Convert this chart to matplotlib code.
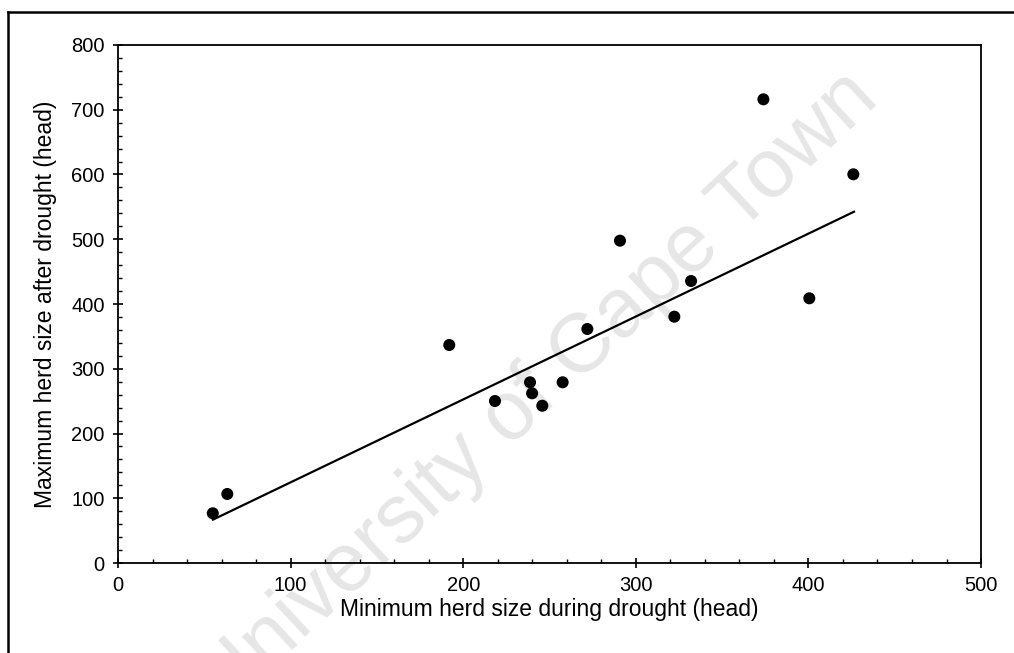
import matplotlib
matplotlib.use("Agg")
import matplotlib.pyplot as plt
from matplotlib.ticker import MultipleLocator
from matplotlib.lines import Line2D

min_herd = [54.9, 63.3, 191.9, 218.4, 238.7, 239.9, 245.8, 257.6, 271.9,
            290.8, 322.3, 332.0, 373.9, 400.5, 426.0]
max_herd = [76.8, 106.6, 336.7, 250.2, 279.1, 262.1, 242.9, 279.1, 361.4,
            497.8, 380.4, 435.5, 716.1, 408.8, 600.3]
fit_x = [55, 426.4]
fit_y = [67, 542.5]

x_ticks = [0, 100, 200, 300, 400, 500]
y_ticks = [0, 100, 200, 300, 400, 500, 600, 700, 800]

plt.rcParams['font.family'] = ['Liberation Sans', 'DejaVu Sans']

fig = plt.figure(figsize=(10.14, 6.53), dpi=100)
ax = fig.add_axes([0.1164, 0.1378, 0.9675 - 0.1164, 0.9311 - 0.1378])
ax.set_facecolor('none')

fig.text(0.53, 0.40, "University of Cape Town", fontsize=60, color='#e6e6e6',
         rotation=43, ha='center', va='center', zorder=-5)

ax.plot(fit_x, fit_y, color='black', lw=1.6, zorder=2)
ax.scatter(min_herd, max_herd, s=75, color='black', zorder=3, edgecolors='none')

ax.set_xlim(0, 500)
ax.set_ylim(0, 800)
ax.set_xticks(x_ticks)
ax.set_yticks(y_ticks)
ax.xaxis.set_minor_locator(MultipleLocator(20))
ax.yaxis.set_minor_locator(MultipleLocator(20))
ax.tick_params(which='major', direction='inout', length=7, width=1.2, labelsize=14.5, pad=6)
ax.tick_params(which='minor', direction='in', length=3, width=1)
for s in ax.spines.values():
    s.set_linewidth(1.3)

ax.set_xlabel("Minimum herd size during drought (head)", fontsize=16.5, labelpad=2)
ax.set_ylabel("Maximum herd size after drought (head)", fontsize=16.5, labelpad=10)

# outer frame (top and left edges)
fig.add_artist(Line2D([8/1014, 1.0], [1 - 12/653, 1 - 12/653], transform=fig.transFigure,
                      color='black', lw=1.8))
fig.add_artist(Line2D([8/1014, 8/1014], [0, 1 - 12/653], transform=fig.transFigure,
                      color='black', lw=1.8))

fig.savefig("out.png", dpi=100)
